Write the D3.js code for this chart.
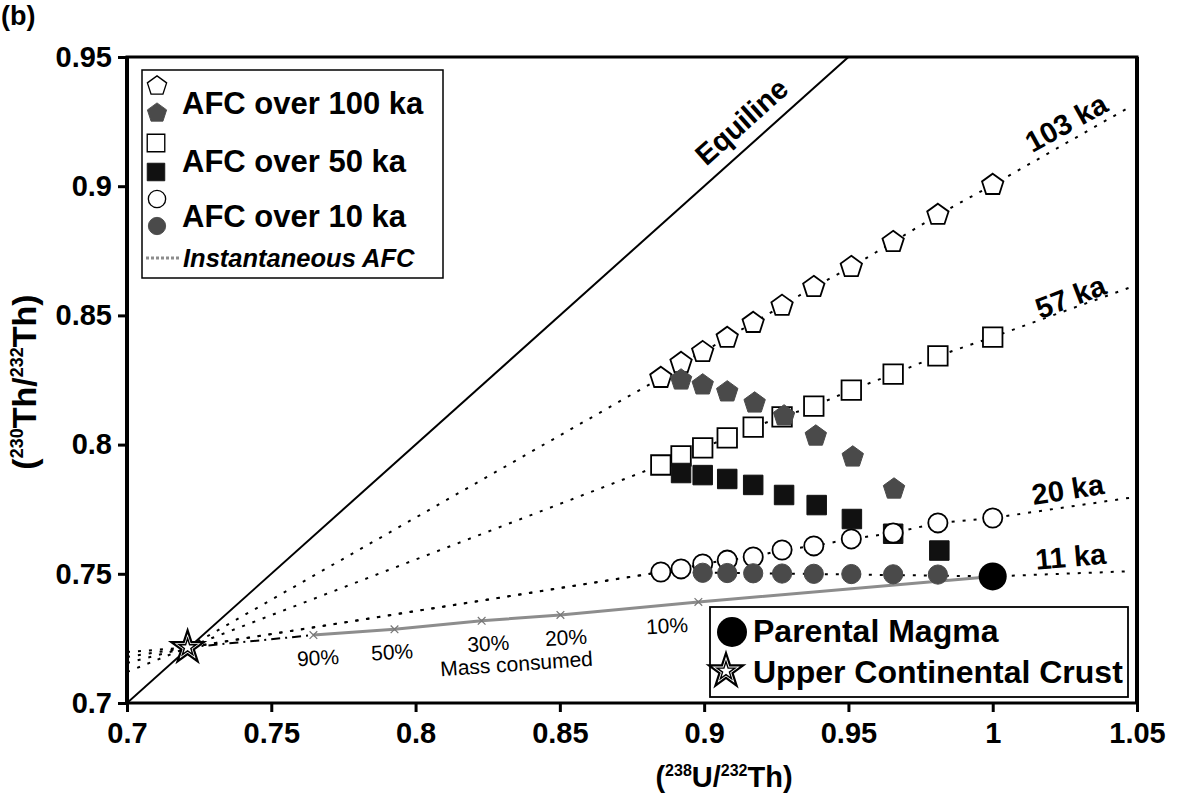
<!DOCTYPE html>
<html>
<head>
<meta charset="utf-8">
<script src="https://cdn.jsdelivr.net/npm/d3@7"></script>
<style>
  body { margin: 0; background: #fff; }
  svg { display: block; font-family: "Liberation Sans", Arial, Helvetica, sans-serif; }
</style>
</head>
<body>
<svg id="chart" width="1180" height="795"></svg>
<script>
// ---- Data: (238U/232Th) vs (230Th/232Th) ----
// 238U/232Th steps shared by the AFC runs
const uSteps = [0.885, 0.892, 0.8995, 0.908, 0.917, 0.927, 0.938, 0.951, 0.9655, 0.981, 1.0];

// 103 ka trajectory (open pentagons)
const th103 = [0.8258, 0.8316, 0.8358, 0.8413, 0.8471, 0.8537, 0.8610, 0.8687, 0.8784, 0.8889, 0.9005];
// 57 ka trajectory (open squares)
const th57 = [0.7921, 0.7956, 0.7987, 0.8026, 0.8068, 0.8107, 0.8149, 0.8211, 0.8273, 0.8343, 0.8416];
// 20 ka trajectory (open circles)
const th20 = [0.7507, 0.7519, 0.7538, 0.7553, 0.7565, 0.7592, 0.7608, 0.7635, 0.7658, 0.7697, 0.7716];

// AFC over 100 ka (filled pentagons)
const u100 = [0.892, 0.8995, 0.908, 0.9175, 0.9277, 0.9387, 0.9515, 0.9658];
const th100 = [0.8250, 0.8231, 0.8204, 0.8161, 0.8111, 0.8033, 0.7952, 0.7828];
// AFC over 50 ka (filled squares)
const u50 = [0.892, 0.8995, 0.908, 0.917, 0.9277, 0.939, 0.9512, 0.9655, 0.9815];
const th50 = [0.7890, 0.7882, 0.7867, 0.7844, 0.7805, 0.7766, 0.7712, 0.7655, 0.7590];
// AFC over 10 ka (filled circles)
const u10 = [0.8995, 0.908, 0.917, 0.927, 0.938, 0.951, 0.9655, 0.981];
const th10 = [0.7504, 0.7503, 0.7502, 0.7501, 0.7500, 0.7499, 0.7498, 0.7497];

// End members
const parental = [1.0, 0.749];
const crust = [0.721, 0.7215];

// Instantaneous AFC curve, labelled by mass consumed
const instU = [0.7646, 0.7927, 0.8229, 0.8502, 0.898, 1.0];
const instTh = [0.7263, 0.7285, 0.7318, 0.7341, 0.7391, 0.749];
const instLabels = ["90%", "50%", "30%", "20%", "10%"];

// Mixing lines through the crust point: labels and end values
const mixLabels = ["103 ka", "57 ka", "20 ka", "11 ka"];
const mixLeftTh = [0.712, 0.7155, 0.7178, 0.7197];
const mixRightTh = [0.931, 0.861, 0.7795, 0.751];
const mixLeftU = 0.7, mixRightU = 1.048;

// Axis ticks
const xTicks = [0.7, 0.75, 0.8, 0.85, 0.9, 0.95, 1.0, 1.05];
const xTickLabels = ["0.7", "0.75", "0.8", "0.85", "0.9", "0.95", "1", "1.05"];
const yTicks = [0.7, 0.75, 0.8, 0.85, 0.9, 0.95];
const yTickLabels = ["0.7", "0.75", "0.8", "0.85", "0.9", "0.95"];

// ---- Layout ----
const L = 127, R = 1137, T = 57, B = 703;
const svg = d3.select("#chart");
const x = d3.scaleLinear().domain([0.7, 1.05]).range([L, R]);
const y = d3.scaleLinear().domain([0.7, 0.95]).range([B, T]);

svg.append("defs").append("clipPath").attr("id", "plot")
  .append("rect").attr("x", L).attr("y", T).attr("width", R - L).attr("height", B - T);

const plot = svg.append("g").attr("clip-path", "url(#plot)");
const line = d3.line().x(d => x(d[0])).y(d => y(d[1]));

// Regular pentagon symbol (size = area)
const pentagon = {
  draw(ctx, size) {
    const r = Math.sqrt(size / (2.5 * Math.sin(2 * Math.PI / 5)));
    for (let i = 0; i < 5; i++) {
      const a = -Math.PI / 2 + i * 2 * Math.PI / 5;
      const px = r * Math.cos(a), py = r * Math.sin(a);
      if (i === 0) ctx.moveTo(px, py); else ctx.lineTo(px, py);
    }
    ctx.closePath();
  }
};
const sym = (type, size) => d3.symbol().type(type).size(size)();
const PENT = sym(pentagon, 300), SQ = sym(d3.symbolSquare, 380), CIRC = sym(d3.symbolCircle, 290);
const GREY = "#4a4a4a";

// Equiline
plot.append("path")
  .attr("d", line([[0.7, 0.7], [0.95, 0.95]]))
  .attr("fill", "none").attr("stroke", "#000").attr("stroke-width", 2);

// Mixing lines (dotted)
const openTh = [th103, th57, th20];
mixLabels.forEach((lab, i) => {
  let pts;
  if (i < 3) {
    pts = [[mixLeftU, mixLeftTh[i]], crust, ...uSteps.map((u, j) => [u, openTh[i][j]]), [mixRightU, mixRightTh[i]]];
  } else {
    pts = [[mixLeftU, mixLeftTh[i]], crust, [uSteps[0], th20[0]], parental, [mixRightU, mixRightTh[i]]];
  }
  plot.append("path").attr("d", line(pts))
    .attr("fill", "none").attr("stroke", "#000").attr("stroke-width", 2)
    .attr("stroke-dasharray", "3,8");
});

// Dash-dot lead from the crust to the instantaneous curve
plot.append("path").attr("d", line([crust, [instU[0], instTh[0]]]))
  .attr("fill", "none").attr("stroke", "#000").attr("stroke-width", 2)
  .attr("stroke-dasharray", "9,5,2,5");

// Instantaneous AFC curve
const instPts = instU.map((u, i) => [u, instTh[i]]);
plot.append("path").attr("d", line(instPts))
  .attr("fill", "none").attr("stroke", "#8d8d8d").attr("stroke-width", 3);
instLabels.forEach((lab, i) => {
  plot.append("path").attr("d", sym(d3.symbolTimes, 40))
    .attr("transform", `translate(${x(instU[i])},${y(instTh[i])})`)
    .attr("fill", "none").attr("stroke", "#777").attr("stroke-width", 1.2);
});
const pctDx = [5, -2, 7, 6, -10];
instLabels.forEach((lab, i) => {
  svg.append("text")
    .attr("x", x(instU[i]) + pctDx[i]).attr("y", y(instTh[i]) + 30)
    .attr("text-anchor", i === 4 ? "end" : "middle")
    .attr("transform", `rotate(-3,${x(instU[i]) + pctDx[i]},${y(instTh[i]) + 30})`)
    .attr("font-size", 21).text(lab);
});
svg.append("text").attr("x", 517).attr("y", 671).attr("text-anchor", "middle")
  .attr("transform", "rotate(-4,517,671)").attr("font-size", 21).text("Mass consumed");

// Markers
function drawPoints(us, ths, path, fill) {
  plot.selectAll(null).data(us.map((u, i) => [u, ths[i]])).enter().append("path")
    .attr("d", path)
    .attr("transform", d => `translate(${x(d[0])},${y(d[1])})`)
    .attr("fill", fill).attr("stroke", fill === "#fff" ? "#000" : fill)
    .attr("stroke-width", fill === "#fff" ? 1.8 : 1);
}
drawPoints(uSteps, th103, PENT, "#fff");
drawPoints(uSteps, th57, SQ, "#fff");
drawPoints(u100, th100, PENT, GREY);
drawPoints(u50, th50, SQ, "#111");
drawPoints(uSteps, th20, CIRC, "#fff");
drawPoints(u10, th10, CIRC, GREY);

// Parental magma
plot.append("circle").attr("cx", x(parental[0])).attr("cy", y(parental[1])).attr("r", 14).attr("fill", "#000");

// Upper continental crust (double-outlined star)
function drawStar(g, cx, cy, s) {
  g.append("path").attr("d", sym(d3.symbolStar, 330 * s))
    .attr("transform", `translate(${cx},${cy})`)
    .attr("fill", "#fff").attr("stroke", "#000").attr("stroke-width", 2.2);
  g.append("path").attr("d", sym(d3.symbolStar, 90 * s))
    .attr("transform", `translate(${cx},${cy})`)
    .attr("fill", "none").attr("stroke", "#000").attr("stroke-width", 1.4);
}
drawStar(svg, x(crust[0]), y(crust[1]), 1);

// Line labels
const labU = [1.0255, 1.027, 1.026, 1.027];
const labTh = [0.9245, 0.8572, 0.7826, 0.7566];
const labAngle = [-29, -21, -9, -5];
mixLabels.forEach((lab, i) => {
  const px = x(labU[i]), py = y(labTh[i]);
  svg.append("text").attr("x", px).attr("y", py)
    .attr("text-anchor", "middle").attr("dominant-baseline", "central")
    .attr("transform", `rotate(${labAngle[i]},${px},${py})`)
    .attr("font-size", 29).attr("font-weight", "bold").text(lab);
});

// Equiline label
{
  const px = x(0.913), py = y(0.925);
  svg.append("text").attr("x", px).attr("y", py)
    .attr("text-anchor", "middle").attr("dominant-baseline", "central")
    .attr("transform", `rotate(-41.8,${px},${py})`)
    .attr("font-size", 29).attr("font-weight", "bold").text("Equiline");
}

// Axes
const xAxis = svg.append("g").attr("transform", `translate(0,${B})`)
  .call(d3.axisBottom(x).tickValues(xTicks).tickFormat((d, i) => xTickLabels[i]).tickSize(9).tickSizeOuter(0).tickPadding(10));
const yAxis = svg.append("g").attr("transform", `translate(${L},0)`)
  .call(d3.axisLeft(y).tickValues(yTicks).tickFormat((d, i) => yTickLabels[i]).tickSize(9).tickSizeOuter(0).tickPadding(6));
[xAxis, yAxis].forEach(g => {
  g.select(".domain").remove();
  g.selectAll(".tick line").attr("stroke", "#000").attr("stroke-width", 3);
  g.selectAll(".tick text").attr("fill", "#000").attr("font-size", 29).attr("font-weight", "bold")
    .attr("font-family", "'Liberation Sans', Arial, sans-serif");
});

// Frame
svg.append("rect").attr("x", L).attr("y", T).attr("width", R - L).attr("height", B - T)
  .attr("fill", "none").attr("stroke", "#000").attr("stroke-width", 3);
svg.append("line").attr("x1", L).attr("x2", L).attr("y1", T).attr("y2", B)
  .attr("stroke", "#000").attr("stroke-width", 4);
svg.append("line").attr("x1", R).attr("x2", R).attr("y1", T).attr("y2", B)
  .attr("stroke", "#000").attr("stroke-width", 4);

// Axis titles
{
  const t = svg.append("text").attr("x", 724).attr("y", 787).attr("text-anchor", "middle")
    .attr("font-size", 29).attr("font-weight", "bold");
  t.append("tspan").text("(");
  t.append("tspan").attr("font-size", 16).attr("dy", -11).text("238");
  t.append("tspan").attr("dy", 11).text("U/");
  t.append("tspan").attr("font-size", 16).attr("dy", -11).text("232");
  t.append("tspan").attr("dy", 11).text("Th)");
}
{
  const t = svg.append("text").attr("transform", "translate(36,382) rotate(-90)").attr("text-anchor", "middle")
    .attr("font-size", 34).attr("font-weight", "bold");
  t.append("tspan").text("(");
  t.append("tspan").attr("font-size", 18).attr("dy", -13).text("230");
  t.append("tspan").attr("dy", 13).text("Th/");
  t.append("tspan").attr("font-size", 18).attr("dy", -13).text("232");
  t.append("tspan").attr("dy", 13).text("Th)");
}

// Panel letter
svg.append("text").attr("x", 1).attr("y", 25).attr("font-size", 27).attr("font-weight", "bold").text("(b)");

// Legend (upper left)
const lg = svg.append("g");
lg.append("rect").attr("x", 142).attr("y", 70).attr("width", 301).attr("height", 208)
  .attr("fill", "#fff").attr("stroke", "#000").attr("stroke-width", 1.5);
const legSym = [
  [PENT, "#fff", 157, 86], [PENT, GREY, 157, 113],
  [SQ, "#fff", 156, 143], [SQ, "#111", 156, 172],
  [CIRC, "#fff", 157, 199], [CIRC, GREY, 157, 226]
];
legSym.forEach(([p, f, cx, cy]) => {
  lg.append("path").attr("d", p).attr("transform", `translate(${cx},${cy}) scale(0.9)`)
    .attr("fill", f).attr("stroke", f === "#fff" ? "#000" : f).attr("stroke-width", f === "#fff" ? 1.5 : 1);
});
lg.append("line").attr("x1", 146).attr("x2", 180).attr("y1", 258).attr("y2", 258)
  .attr("stroke", "#8d8d8d").attr("stroke-width", 3).attr("stroke-dasharray", "3,2");
const legText = ["AFC over 100 ka", "AFC over 50 ka", "AFC over 10 ka"];
const legTextY = [103, 161, 216];
legText.forEach((t, i) => {
  lg.append("text").attr("x", 182).attr("y", legTextY[i]).attr("dominant-baseline", "central")
    .attr("font-size", 31).attr("font-weight", "bold").text(t);
});
lg.append("text").attr("x", 183).attr("y", 258).attr("dominant-baseline", "central")
  .attr("font-size", 25.5).attr("font-weight", "bold").attr("font-style", "italic").text("Instantaneous AFC");

// Legend (lower right)
const lg2 = svg.append("g");
lg2.append("rect").attr("x", 710).attr("y", 607).attr("width", 418).attr("height", 90)
  .attr("fill", "#fff").attr("stroke", "#000").attr("stroke-width", 1.8);
lg2.append("circle").attr("cx", 732).attr("cy", 632).attr("r", 15).attr("fill", "#000");
drawStar(lg2, 726, 671, 1.1);
lg2.append("text").attr("x", 753).attr("y", 631).attr("dominant-baseline", "central")
  .attr("font-size", 32).attr("font-weight", "bold").text("Parental Magma");
lg2.append("text").attr("x", 753).attr("y", 672).attr("dominant-baseline", "central")
  .attr("font-size", 32).attr("font-weight", "bold").text("Upper Continental Crust");
</script>
</body>
</html>
